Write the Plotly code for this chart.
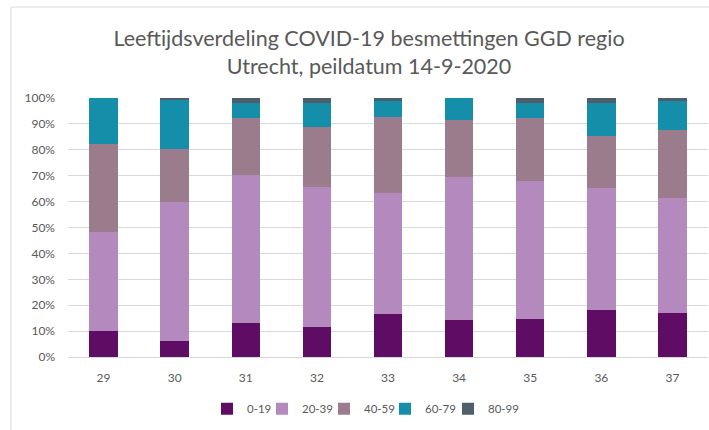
import plotly.graph_objects as go

weeks = ["29", "30", "31", "32", "33", "34", "35", "36", "37"]
age_groups = ["0-19", "20-39", "40-59", "60-79", "80-99"]
pct_0_19 = [10.1, 6.3, 13.2, 11.6, 16.5, 14.2, 14.6, 18.0, 17.0]
pct_20_39 = [38.0, 53.6, 57.2, 54.0, 46.7, 55.3, 53.4, 47.2, 44.5]
pct_40_59 = [34.1, 20.5, 21.7, 23.2, 29.6, 22.2, 24.1, 20.1, 26.1]
pct_60_79 = [17.8, 18.8, 6.1, 9.4, 5.9, 8.3, 6.1, 12.9, 11.1]
pct_80_99 = [0.0, 0.8, 1.8, 1.8, 1.3, 0.0, 1.8, 1.8, 1.3]
y_ticks = [0, 10, 20, 30, 40, 50, 60, 70, 80, 90, 100]
y_tick_labels = ["0%", "10%", "20%", "30%", "40%", "50%", "60%", "70%", "80%", "90%", "100%"]

series = [pct_0_19, pct_20_39, pct_40_59, pct_60_79, pct_80_99]
colors = ["#5E0C64", "#B48ABE", "#9B7C8D", "#148EA9", "#4F5E6B"]
# legend symbol centres in pixels (layout only)
legend_px = [228, 283, 345, 406, 469]

PLOT_L, PLOT_W = 68, 640

fig = go.Figure()
legend_ids = ["legend", "legend2", "legend3", "legend4", "legend5"]
for name, vals, col, lid in zip(age_groups, series, colors, legend_ids):
    fig.add_trace(go.Bar(x=weeks, y=vals, name=name, marker_color=col,
                         marker_line_width=0, width=0.4, legend=lid))

font = "Lato, 'Open Sans', sans-serif"
fig.update_layout(
    barmode="stack",
    width=709, height=430,
    margin=dict(l=PLOT_L, r=1, t=98, b=73),
    paper_bgcolor="white", plot_bgcolor="white",
    font=dict(family=font, color="#595959", size=12),
    title=dict(text="Leeftijdsverdeling COVID-19 besmettingen GGD regio<br>Utrecht, peildatum 14-9-2020",
               x=369/709, xanchor="center", xref="container",
               y=1 - 46/430, yanchor="middle", yref="container",
               font=dict(size=21.5, color="#595959", family=font)),
    showlegend=True,
    xaxis=dict(showline=True, linecolor="#D9D9D9", linewidth=1, ticks="",
               ticklabelstandoff=10, showgrid=False, tickfont=dict(size=12)),
    yaxis=dict(range=[0, 100], tickvals=y_ticks, ticktext=y_tick_labels,
               showgrid=True, gridcolor="#D9D9D9", gridwidth=1, zeroline=False,
               ticks="", ticklabelstandoff=12, tickfont=dict(size=12)),
    shapes=[
        dict(type="line", xref="paper", yref="paper", x0=(11-68)/640, x1=1.05,
             y0=(357-7)/259, y1=(357-7)/259, line=dict(color="#D9D9D9", width=1)),
        dict(type="line", xref="paper", yref="paper", x0=(11-68)/640, x1=(11-68)/640,
             y0=(357-7)/259, y1=-0.3, line=dict(color="#D9D9D9", width=1)),
    ],
)
for lid, px in zip(legend_ids, legend_px):
    fig.update_layout(**{lid: dict(orientation="h", x=(px - 21 - PLOT_L) / PLOT_W,
                                   xanchor="left", y=-0.2, yanchor="middle",
                                   font=dict(size=11.5, color="#595959"), itemwidth=30,
                                   bgcolor="rgba(0,0,0,0)")})

fig.write_html("out.html", config={"displayModeBar": False},
               post_script="document.body.style.margin='0px';")
